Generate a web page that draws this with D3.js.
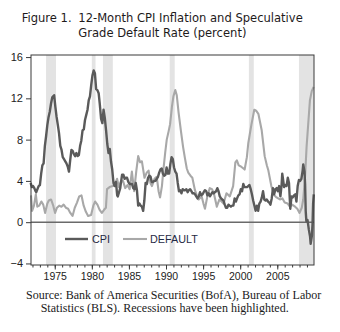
<!DOCTYPE html>
<html><head><meta charset="utf-8">
<script src="https://cdn.jsdelivr.net/npm/d3@7"></script>
<style>body{margin:0;background:#fff;} svg{display:block;}</style>
</head><body>
<svg id="c" width="340" height="332"></svg>
<script>
// ---------------- data ----------------
const titleLabel = "Figure 1.";
const titleLines = ["12-Month CPI Inflation and Speculative", "Grade Default Rate (percent)"];
const sourceLines = ["Source: Bank of America Securities (BofA), Bureau of Labor",
                     "Statistics (BLS). Recessions have been highlighted."];
const seriesNames = ["CPI", "DEFAULT"];
const yTicks = [-4, 0, 4, 8, 12, 16];
const xMajorTicks = [1975, 1980, 1985, 1990, 1995, 2000, 2005];
const xMinorTicks = d3.range(1972, 2010);
const recessions = [[1973.83,1975.17],[1980.0,1980.5],[1981.5,1982.83],[1990.5,1991.17],[2001.17,2001.83],[2007.92,2009.95]];

const cpiData = [
[1971.75,3.8],[1971.92,3.4],[1972.08,3.5],[1972.25,3.3],[1972.42,3.0],[1972.5,2.9],[1972.67,3.2],[1972.83,3.5],
[1973.0,3.6],[1973.17,4.7],[1973.33,5.5],[1973.5,5.7],[1973.67,7.4],[1973.83,8.3],
[1974.0,9.4],[1974.17,10.2],[1974.33,10.7],[1974.5,11.5],[1974.67,12.1],[1974.92,12.3],
[1975.08,11.2],[1975.25,10.2],[1975.42,9.4],[1975.58,8.6],[1975.75,7.4],[1975.92,7.0],
[1976.08,6.3],[1976.25,6.1],[1976.42,5.9],[1976.58,5.7],[1976.75,5.4],[1976.92,4.9],
[1977.08,6.0],[1977.25,7.0],[1977.42,6.9],[1977.58,6.6],[1977.75,6.4],[1977.92,6.7],
[1978.08,6.4],[1978.25,6.5],[1978.42,7.4],[1978.58,7.9],[1978.75,8.9],[1978.92,9.0],
[1979.08,9.9],[1979.25,10.4],[1979.42,10.9],[1979.58,11.8],[1979.75,12.2],[1979.92,13.3],
[1980.08,14.2],[1980.25,14.7],[1980.42,14.4],[1980.58,12.9],[1980.75,12.8],[1980.92,12.5],
[1981.08,11.4],[1981.25,10.0],[1981.42,9.6],[1981.58,10.9],[1981.75,10.1],[1981.92,8.9],
[1982.08,7.6],[1982.25,6.7],[1982.42,7.1],[1982.58,5.9],[1982.75,5.1],[1982.92,3.8],
[1983.08,3.5],[1983.25,3.9],[1983.42,2.6],[1983.5,2.5],[1983.67,2.9],[1983.83,3.3],[1983.92,3.8],
[1984.08,4.6],[1984.25,4.6],[1984.42,4.2],[1984.58,4.3],[1984.75,4.3],[1984.92,3.9],
[1985.08,3.7],[1985.25,3.7],[1985.42,3.7],[1985.58,3.3],[1985.75,3.2],[1985.92,3.8],
[1986.08,3.1],[1986.25,1.6],[1986.42,1.8],[1986.58,1.6],[1986.75,1.5],[1986.92,1.1],
[1987.08,2.1],[1987.25,3.8],[1987.42,3.7],[1987.58,4.3],[1987.75,4.5],[1987.92,4.4],
[1988.08,3.9],[1988.25,3.9],[1988.42,4.0],[1988.58,4.0],[1988.75,4.2],[1988.92,4.4],
[1989.08,4.8],[1989.25,5.1],[1989.42,5.2],[1989.58,4.7],[1989.75,4.5],[1989.92,4.6],
[1990.08,5.3],[1990.25,4.7],[1990.42,4.7],[1990.58,5.6],[1990.75,6.3],[1990.92,6.1],
[1991.08,5.3],[1991.25,4.9],[1991.42,4.7],[1991.58,3.8],[1991.75,3.0],[1991.92,3.1],
[1992.08,2.8],[1992.25,3.2],[1992.42,3.1],[1992.58,3.1],[1992.75,3.2],[1992.92,2.9],
[1993.08,3.1],[1993.25,3.2],[1993.42,3.0],[1993.58,2.8],[1993.75,2.8],[1993.92,2.7],
[1994.08,2.5],[1994.25,2.3],[1994.42,2.5],[1994.58,2.9],[1994.75,2.6],[1994.92,2.7],
[1995.08,2.9],[1995.25,3.1],[1995.42,3.0],[1995.58,2.6],[1995.75,2.8],[1995.92,2.5],
[1996.08,2.7],[1996.25,2.9],[1996.42,2.8],[1996.58,2.9],[1996.75,3.0],[1996.92,3.3],
[1997.08,3.0],[1997.25,2.5],[1997.42,2.3],[1997.58,2.2],[1997.75,2.1],[1997.92,1.7],
[1998.08,1.4],[1998.25,1.4],[1998.42,1.7],[1998.58,1.6],[1998.75,1.5],[1998.92,1.6],
[1999.08,1.6],[1999.25,2.3],[1999.42,2.0],[1999.58,2.3],[1999.75,2.6],[1999.92,2.7],
[2000.08,3.2],[2000.25,3.0],[2000.42,3.7],[2000.58,3.4],[2000.75,3.4],[2000.92,3.4],
[2001.08,3.5],[2001.25,3.6],[2001.42,3.2],[2001.58,2.7],[2001.75,2.1],[2001.92,1.6],
[2002.08,1.1],[2002.25,1.6],[2002.42,1.1],[2002.58,1.8],[2002.75,2.0],[2002.92,2.4],
[2003.08,3.0],[2003.25,2.2],[2003.42,2.1],[2003.58,2.2],[2003.75,2.0],[2003.92,1.9],
[2004.08,1.7],[2004.25,2.3],[2004.42,3.3],[2004.58,2.7],[2004.75,3.2],[2004.92,3.3],
[2005.08,3.0],[2005.25,3.5],[2005.42,2.5],[2005.58,3.6],[2005.67,4.7],[2005.75,4.3],[2005.92,3.4],
[2006.08,3.6],[2006.25,3.5],[2006.42,4.3],[2006.58,3.8],[2006.75,1.3],[2006.92,2.5],
[2007.08,2.4],[2007.25,2.6],[2007.42,2.7],[2007.58,2.0],[2007.75,3.5],[2007.92,4.1],
[2008.08,4.0],[2008.25,4.2],[2008.42,5.0],[2008.5,5.6],[2008.67,4.9],[2008.75,3.7],[2008.83,1.1],[2008.92,0.1],
[2009.08,0.2],[2009.25,-0.7],[2009.42,-1.4],[2009.5,-2.1],[2009.67,-1.3],[2009.75,-0.2],[2009.83,1.8],[2009.92,2.7]
];

const defaultData = [
[1971.8,2.6],[1971.95,1.1],[1972.2,1.6],[1972.45,2.7],[1972.65,1.5],[1972.9,1.6],
[1973.2,2.0],[1973.45,1.7],[1973.7,0.9],[1974.0,1.8],[1974.2,2.1],[1974.5,2.2],[1974.8,1.6],
[1975.05,0.9],[1975.3,1.4],[1975.6,1.6],[1975.9,1.5],[1976.2,1.7],[1976.5,1.4],[1976.8,1.3],
[1977.1,0.9],[1977.4,0.6],[1977.7,1.4],[1978.0,1.9],[1978.3,2.5],[1978.6,2.6],[1978.9,1.6],
[1979.2,1.0],[1979.5,0.6],[1979.9,0.7],[1980.2,1.6],[1980.45,2.0],[1980.75,1.7],
[1981.05,1.2],[1981.35,0.9],[1981.65,1.2],[1981.9,1.4],[1982.05,3.2],[1982.4,3.4],[1982.8,3.5],
[1983.1,3.6],[1983.4,4.2],[1983.65,3.4],[1983.9,3.9],[1984.2,4.0],[1984.5,3.3],[1984.8,3.6],
[1985.1,3.2],[1985.4,4.9],[1985.7,3.0],[1986.0,5.0],[1986.25,6.4],[1986.5,5.8],[1986.75,5.9],
[1987.1,4.3],[1987.4,4.8],[1987.65,5.0],[1987.9,3.8],[1988.1,3.5],[1988.45,4.2],[1988.75,4.4],
[1989.0,3.0],[1989.2,2.4],[1989.45,3.5],[1989.65,5.1],[1989.9,6.8],[1990.1,8.0],[1990.35,8.8],
[1990.55,9.5],[1990.8,11.2],[1991.0,12.2],[1991.25,12.8],[1991.45,12.3],[1991.7,10.6],
[1992.0,8.9],[1992.3,7.3],[1992.55,6.2],[1992.8,5.2],[1993.0,4.8],[1993.3,4.5],[1993.55,4.3],
[1993.9,3.1],[1994.15,2.6],[1994.4,2.2],[1994.8,2.5],[1995.05,1.8],[1995.25,1.3],[1995.6,2.6],
[1995.9,3.3],[1996.2,3.2],[1996.45,2.8],[1996.85,1.5],[1997.2,2.2],[1997.5,2.0],[1997.75,1.8],
[1998.15,2.8],[1998.6,2.5],[1999.05,3.5],[1999.35,5.8],[1999.55,6.0],[1999.8,5.5],[2000.1,5.4],
[2000.6,5.1],[2000.9,6.3],[2001.1,7.7],[2001.5,9.4],[2001.9,10.9],[2002.15,10.8],[2002.45,10.5],
[2002.9,8.9],[2003.3,6.4],[2003.6,5.5],[2003.8,5.0],[2004.2,3.5],[2004.6,2.6],[2004.9,2.4],
[2005.35,2.2],[2005.7,2.3],[2006.0,1.9],[2006.4,1.8],[2006.7,1.5],[2007.0,1.7],[2007.4,1.5],
[2007.7,1.3],[2008.0,0.9],[2008.3,1.4],[2008.5,2.2],[2008.75,4.5],[2008.95,7.3],[2009.2,9.8],
[2009.4,11.8],[2009.65,12.7],[2009.9,13.1]
];

// ---------------- chart ----------------
const svg = d3.select("#c");
const pLeft = 31, pRight = 314, pTop = 55, pBottom = 265;
const x = d3.scaleLinear().domain([1971.8, 2009.95]).range([pLeft, pRight]);
const y = d3.scaleLinear().domain([-4.15, 16.2]).range([pBottom, pTop]);

const sansFont = "'Liberation Sans', Arial, sans-serif";

// recession bands
svg.append("g").selectAll("rect").data(recessions).join("rect")
  .attr("x", d => x(d[0])).attr("width", d => x(d[1]) - x(d[0]))
  .attr("y", pTop).attr("height", pBottom - pTop)
  .attr("fill", "#e3e3e3");

// zero line
svg.append("line").attr("x1", pLeft).attr("x2", pRight)
  .attr("y1", y(0)).attr("y2", y(0))
  .attr("stroke", "#6a6a6a").attr("stroke-width", 1.5);

const line = d3.line().x(d => x(d[0])).y(d => y(d[1]));
svg.append("path").datum(defaultData).attr("d", line)
  .attr("fill", "none").attr("stroke", "#a8a8a8").attr("stroke-width", 2.1)
  .attr("stroke-linejoin", "round");
svg.append("path").datum(cpiData).attr("d", line)
  .attr("fill", "none").attr("stroke", "#5a5a5a").attr("stroke-width", 2.4)
  .attr("stroke-linejoin", "round");

// frame
svg.append("rect").attr("x", pLeft).attr("y", pTop)
  .attr("width", pRight - pLeft).attr("height", pBottom - pTop)
  .attr("fill", "none").attr("stroke", "#3a3a3a").attr("stroke-width", 1);

// y axis
const yAxis = d3.axisLeft(y).tickValues(yTicks).tickSize(5).tickPadding(3).tickFormat(d3.format("d"));
const gy = svg.append("g").attr("transform", `translate(${pLeft},0)`).call(yAxis);
gy.select(".domain").remove();
gy.selectAll("line").attr("stroke", "#3a3a3a");
gy.selectAll("text").attr("font-family", sansFont).attr("font-size", 11).attr("fill", "#222");

// x axis minor
const gxMinor = svg.append("g").attr("transform", `translate(0,${pBottom})`)
  .call(d3.axisBottom(x).tickValues(xMinorTicks).tickSize(2.5).tickFormat(""));
gxMinor.select(".domain").remove();
gxMinor.selectAll("line").attr("stroke", "#3a3a3a");
// x axis major
const gx = svg.append("g").attr("transform", `translate(0,${pBottom})`)
  .call(d3.axisBottom(x).tickValues(xMajorTicks).tickSize(4.5).tickPadding(3).tickFormat(d3.format("d")));
gx.select(".domain").remove();
gx.selectAll("line").attr("stroke", "#3a3a3a");
gx.selectAll("text").attr("font-family", sansFont).attr("font-size", 10.5).attr("fill", "#222");

// legend
const legendY = 239;
const legendItems = [
  {name: seriesNames[0], x0: 65, x1: 88, tx: 92, color: "#5a5a5a", w: 2.4},
  {name: seriesNames[1], x0: 123, x1: 147, tx: 150, color: "#a8a8a8", w: 2.1}
];
legendItems.forEach(it => {
  svg.append("line").attr("x1", it.x0).attr("x2", it.x1).attr("y1", legendY).attr("y2", legendY)
    .attr("stroke", it.color).attr("stroke-width", it.w);
  svg.append("text").attr("x", it.tx).attr("y", legendY + 4)
    .attr("font-family", sansFont).attr("font-size", 10.8).attr("fill", "#1f2a44").text(it.name);
});

// title
function fitText(sel, target, base) {
  const w = sel.node().getComputedTextLength();
  sel.attr("font-size", base * target / w);
}
const titleFont = "'DejaVu Sans', sans-serif";
const t0 = svg.append("text").attr("x", 21.7).attr("y", 22).attr("font-family", titleFont)
  .attr("font-size", 12).attr("fill", "#1e1a1b").text(titleLabel);
const t1 = svg.append("text").attr("x", 78.3).attr("y", 22).attr("font-family", titleFont)
  .attr("font-size", 12).attr("fill", "#1e1a1b").text(titleLines[0]);
fitText(t1, 224.7, 12);
const tfs = +t1.attr("font-size");
t0.attr("font-size", tfs);
svg.append("text").attr("x", 78.3).attr("y", 37).attr("font-family", titleFont)
  .attr("font-size", tfs).attr("fill", "#1e1a1b").text(titleLines[1]);

// source
const serif = "'Liberation Serif', 'Times New Roman', serif";
const s1 = svg.append("text").attr("x", 26).attr("y", 299).attr("font-family", serif)
  .attr("font-size", 12).attr("fill", "#1a1a1a").text(sourceLines[0]);
fitText(s1, 295.7, 12);
svg.append("text").attr("x", 40.7).attr("y", 312).attr("font-family", serif)
  .attr("font-size", s1.attr("font-size")).attr("fill", "#1a1a1a").text(sourceLines[1]);
</script>
</body></html>
